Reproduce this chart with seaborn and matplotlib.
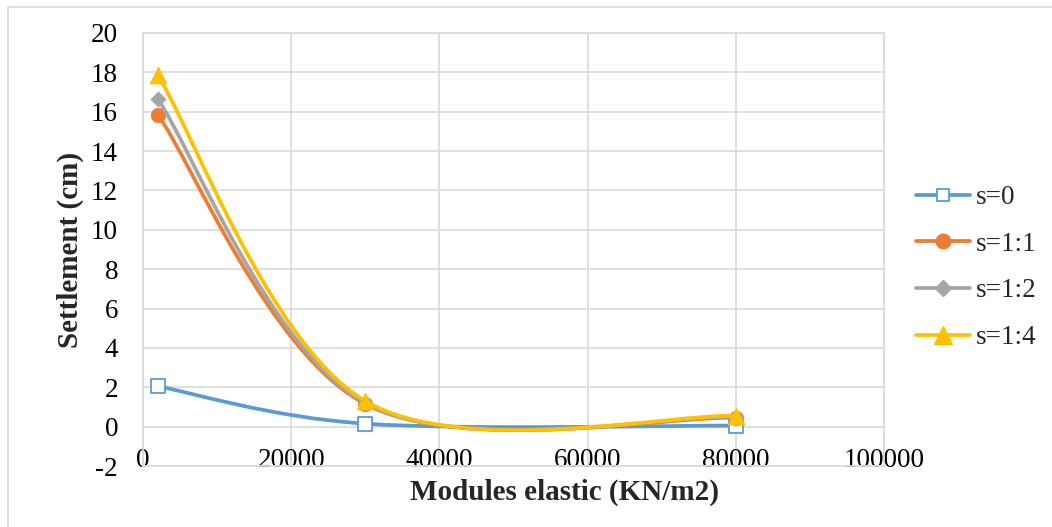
import numpy as np
import matplotlib
matplotlib.use('Agg')
import matplotlib.pyplot as plt
import seaborn as sns
from matplotlib.path import Path
from matplotlib.patches import PathPatch, Rectangle
from matplotlib.lines import Line2D

# ---- data ----
modulus = [2000, 30000, 80000]
s_0 = [2.05, 0.15, 0.05]
s_1_1 = [15.85, 1.15, 0.45]
s_1_2 = [16.65, 1.2, 0.5]
s_1_4 = [17.85, 1.3, 0.55]
series_names = ['s=0', 's=1:1', 's=1:2', 's=1:4']
x_ticks = [0, 20000, 40000, 60000, 80000, 100000]
y_ticks = [-2, 0, 2, 4, 6, 8, 10, 12, 14, 16, 18, 20]
x_label = 'Modules elastic (KN/m2)'
y_label = 'Settlement (cm)'

# ---- style ----
colors = ['#5B9BD5', '#ED7D31', '#A5A5A5', '#FFC000']
markers = ['s', 'o', 'D', '^']
msizes = [90, 110, 60, 150]
grid_c = '#D9D9D9'

sns.set_theme(style='white')
plt.rcParams['font.family'] = ['Liberation Serif', 'DejaVu Serif']

W, H = 1052, 527
fig = plt.figure(figsize=(W / 100, H / 100), dpi=100)
L, R, T, B = 143, 884, 33, 466
ax = fig.add_axes([L / W, 1 - B / H, (R - L) / W, (B - T) / H])

# figure border (top & left visible)
fig.patches.append(Rectangle((8 / W, -0.05), 1.1, 1 - 7 / H + 0.05, transform=fig.transFigure,
                             fill=False, edgecolor='#D9D9D9', lw=1.2))


def smooth_path(xs, ys):
    pts = np.column_stack([xs, ys]).astype(float)
    n = len(pts)
    verts = [pts[0]]
    codes = [Path.MOVETO]
    for i in range(n - 1):
        p0 = pts[max(i - 1, 0)]
        p1 = pts[i]
        p2 = pts[i + 1]
        p3 = pts[min(i + 2, n - 1)]
        c1 = p1 + (p2 - p0) / 6.0
        c2 = p2 - (p3 - p1) / 6.0
        verts += [c1, c2, p2]
        codes += [Path.CURVE4] * 3
    return Path(verts, codes)


all_series = [s_0, s_1_1, s_1_2, s_1_4]
handles = []
for k, (vals, name, col, mk, ms) in enumerate(zip(all_series, series_names, colors, markers, msizes)):
    patch = PathPatch(smooth_path(modulus, vals), transform=ax.transData, fill=False,
                      edgecolor=col, lw=2.7, zorder=3 + 2 * k, capstyle='round', joinstyle='round')
    ax.add_patch(patch)
    if k == 0:
        sns.scatterplot(x=modulus, y=vals, ax=ax, marker=mk, s=ms, color=col,
                        facecolor='white', edgecolor=col, linewidth=1.3, zorder=4 + 2 * k,
                        legend=False)
        handles.append(Line2D([0], [0], color=col, lw=2.7, marker=mk, markersize=9,
                              markerfacecolor='white', markeredgecolor=col, markeredgewidth=1.3))
    else:
        sns.scatterplot(x=modulus, y=vals, ax=ax, marker=mk, s=ms, color=col,
                        edgecolor=col, linewidth=0.5, zorder=4 + 2 * k, legend=False)
        handles.append(Line2D([0], [0], color=col, lw=2.7, marker=mk,
                              markersize=np.sqrt(ms), markerfacecolor=col, markeredgecolor=col))

ax.set_xlim(0, 100000)
ax.set_ylim(-2, 20)
ax.set_xticks(x_ticks)
ax.set_yticks(y_ticks)
ax.set_xticklabels([str(v) for v in x_ticks])
ax.set_yticklabels([str(v) for v in y_ticks])
ax.grid(True, color=grid_c, lw=1.2)
ax.set_axisbelow(True)
for sp in ax.spines.values():
    sp.set_visible(True)
    sp.set_color(grid_c)
    sp.set_linewidth(1.2)
ax.tick_params(axis='both', length=0, labelsize=19.5, colors='black')
ax.tick_params(axis='x', pad=-13)
ax.tick_params(axis='y', pad=18)
ax.set_facecolor('white')

fig.text(70 / W, 1 - 250 / H, y_label, rotation=90, ha='center', va='center',
         fontsize=21, fontweight='bold')
fig.text(565 / W, 1 - 492 / H, x_label, ha='center', va='center',
         fontsize=21, fontweight='bold')

ax.legend(handles=handles, labels=series_names, loc='center left',
          bbox_to_anchor=(916 / W, 1 - 267.5 / H), bbox_transform=fig.transFigure,
          frameon=False, fontsize=19.5, handlelength=2.0, handletextpad=0.2,
          labelspacing=0.8, borderpad=0, borderaxespad=0)

fig.savefig('out.png', dpi=100, facecolor='white')
